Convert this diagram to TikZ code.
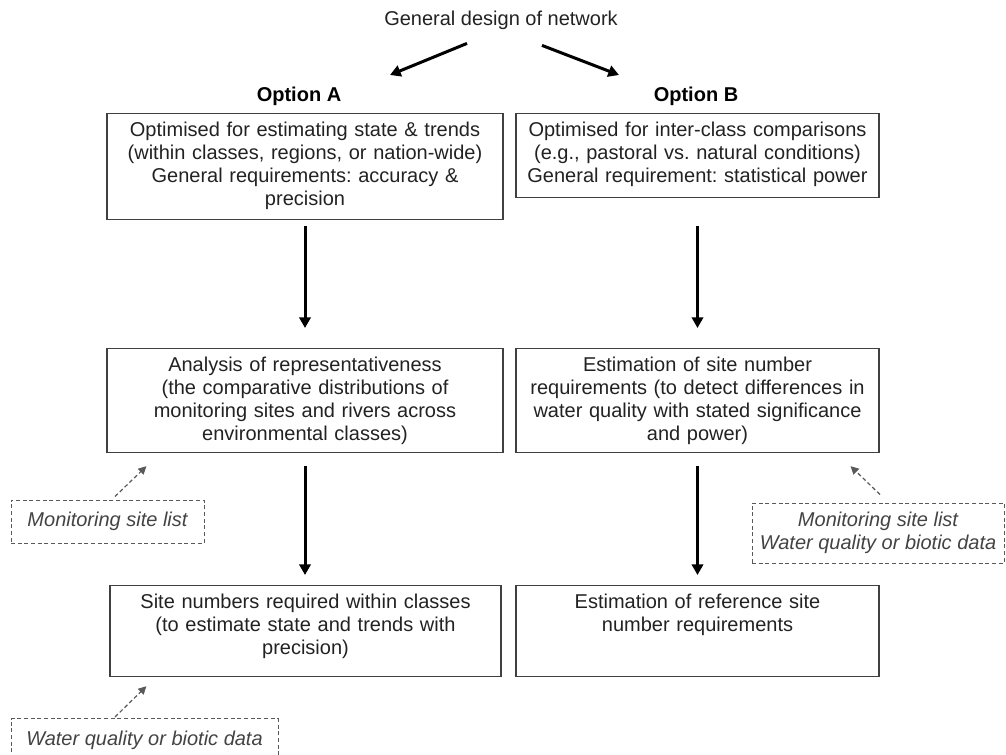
\documentclass[tikz,border=0pt]{standalone}
\usepackage{fontspec}
\setmainfont{Liberation Sans}
\usepackage{tikz}
\usetikzlibrary{arrows.meta}
\usetikzlibrary{calc}
\definecolor{boxline}{HTML}{404040}
\definecolor{boxtext}{HTML}{222222}
\definecolor{dashline}{HTML}{595959}
\frenchspacing

\begin{document}
\begin{tikzpicture}[x=0.75pt,y=-0.75pt,
						stagebox/.style={draw=boxline, line width=0.9pt, text=boxtext, align=center, inner sep=0pt, anchor=north, text height=17.25pt, font=\fontsize{15pt}{17.25pt}\selectfont},
						inputbox/.style={draw=dashline, line width=0.75pt, dash pattern=on 3pt off 2pt, text=boxtext!85, align=center, inner sep=0pt, font=\fontsize{15pt}{17.25pt}\selectfont\itshape},
						optlabel/.style={anchor=base, inner sep=0pt, text=black, font=\fontsize{15pt}{17.25pt}\selectfont\bfseries},
						mainarrow/.style={line width=2.25pt, -{Triangle[length=8pt,width=8.5pt]}},
						feedarrow/.style={draw=dashline, line width=0.9pt, dash pattern=on 3pt off 2pt, -{Triangle[length=6pt,width=6pt]}},
						]
						\useasboundingbox (0,0) rectangle (1006,755);
						%Nodes
						\node[anchor=base, inner sep=0pt, text=boxtext, font=\fontsize{15pt}{17.25pt}\selectfont] (title) at (501,26) {General design of network};
						\node[optlabel] (optA) at (299,102) {Option A};
						\node[optlabel] (optB) at (696,102) {Option B};
						\node[stagebox, text width=297pt, text depth=62.25pt] (A1) at (305,113) {Optimised for estimating state \& trends\\(within classes, regions, or nation-wide)\\General requirements: accuracy \&\\precision};
						\node[stagebox, text width=272.25pt, text depth=45.75pt] (B1) at (697.5,113) {Optimised for inter-class comparisons\\(e.g., pastoral vs. natural conditions)\\General requirement: statistical power};
						\node[stagebox, text width=297pt, text depth=60.75pt] (A2) at (305,348) {Analysis of representativeness\\(the comparative distributions of\\monitoring sites and rivers across\\environmental classes)};
						\node[stagebox, text width=272.25pt, text depth=60.75pt] (B2) at (697.5,348) {Estimation of site number\\requirements (to detect differences in\\water quality with stated significance\\and power)};
						\node[stagebox, text width=293.25pt, text depth=51pt] (A3) at (305.5,585) {Site numbers required within classes\\(to estimate state and trends with\\precision)};
						\node[stagebox, text width=272.25pt, text depth=51pt] (B3) at (697.5,585) {Estimation of reference site\\number requirements};
						\node[inputbox, minimum width=144.75pt, minimum height=32.25pt] (D1) at (107.5,521.5) {Monitoring site list};
						\node[inputbox, minimum width=189pt, minimum height=45pt] (D2) at (878,533) {Monitoring site list\\Water quality or biotic data};
						\node[inputbox, minimum width=200.25pt, minimum height=32.25pt, anchor=north] (D3) at (144.5,718) {Water quality or biotic data};
						
						%Arrow ends
						\coordinate (tipA) at (390,75);
						\coordinate (tipB) at (619,75);
						\coordinate (inA2) at ($(A2.south west)+(40,13)$);
						\coordinate (inB2) at ($(B2.south east)+(-29,13)$);
						\coordinate (inA3) at ($(A3.south west)+(37,9)$);
						
						\draw[mainarrow] ([shift={(-34,13)}]title.south) -- (tipA);
						\draw[mainarrow] ([shift={(41,15)}]title.south) -- (tipB);
						\draw[mainarrow, shorten <=4.5pt, shorten >=15pt] (A1.south) -- (A2.north);
						\draw[mainarrow, shorten <=21pt, shorten >=15pt] (B1.south) -- (B2.north);
						\draw[mainarrow, shorten <=9.75pt, shorten >=7.5pt] (A2.south) -- (A2.south |- A3.north);
						\draw[mainarrow, shorten <=9.75pt, shorten >=7.5pt] (B2.south) -- (B3.north);
						\draw[feedarrow] ([shift={(7.5,-3)}]D1.north) -- (inA2);
						\draw[feedarrow] ([shift={(2,-8)}]D2.north) -- (inB2);
						\draw[feedarrow] ([shift={(-29.5,-1)}]D3.north) -- (inA3);
					\end{tikzpicture}
\end{document}
